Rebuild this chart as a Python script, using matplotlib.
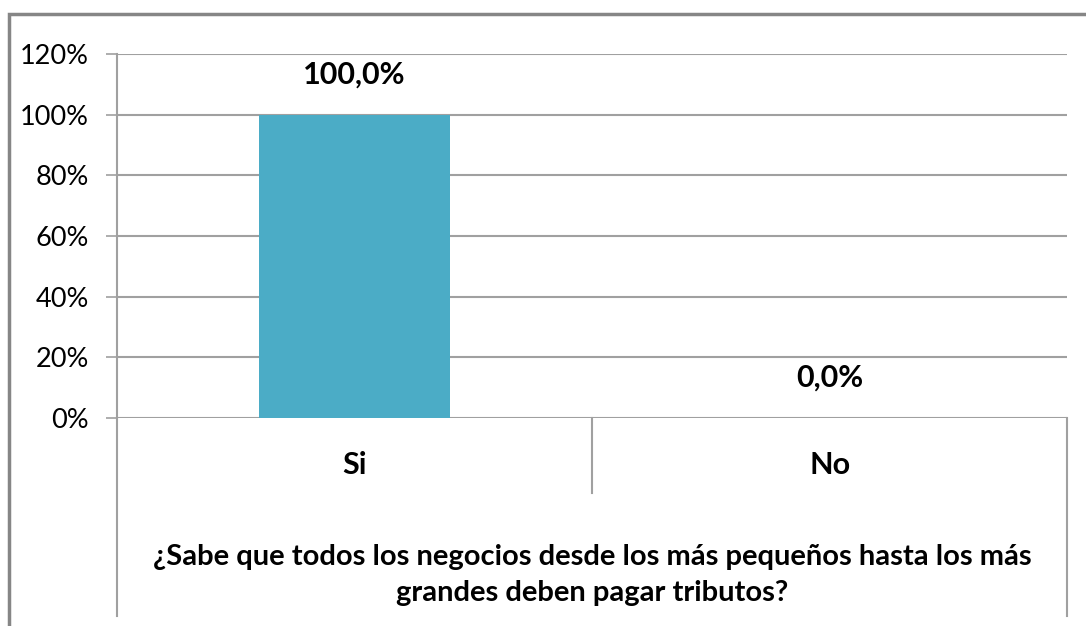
import matplotlib
matplotlib.use("Agg")
import matplotlib.pyplot as plt
import matplotlib.patches as patches
from matplotlib import ticker

plt.rcParams["font.family"] = ["Lato", "DejaVu Sans"]

categories = ["Si", "No"]
values = [100.0, 0.0]
question = "¿Sabe que todos los negocios desde los más pequeños hasta los más\ngrandes deben pagar tributos?"
y_ticks = [0, 20, 40, 60, 80, 100, 120]

bar_color = "#4BACC6"
line_color = "#A0A0A0"

fig = plt.figure(figsize=(10.86, 6.26), dpi=100)
ax = fig.add_axes([0.1077, 0.3323, 0.875, 0.5814])

x = list(range(len(categories)))
ax.bar(x, values, width=0.4, color=bar_color, zorder=3)
ax.set_xlim(-0.5, len(categories) - 0.5)
ax.set_ylim(0, 120)

ax.set_yticks(y_ticks)
ax.yaxis.set_major_formatter(ticker.FuncFormatter(lambda v, p: f"{int(v)}%"))
ax.tick_params(axis="y", length=8, width=1.2, color=line_color, labelsize=19.5, pad=12)
ax.set_xticks([])
ax.grid(axis="y", color=line_color, linewidth=1.5, zorder=0)

for s in ["top", "right", "bottom"]:
    ax.spines[s].set_visible(False)
ax.spines["left"].set_color(line_color)
ax.spines["left"].set_linewidth(1.5)

# data labels
for xi, v in zip(x, values):
    ax.annotate(f"{v:.1f}%".replace(".", ","), (xi, v), xytext=(0, 29), textcoords="offset points",
                ha="center", va="center", fontsize=22, fontweight="bold")

# category axis drawn like an Excel table
trans = ax.get_xaxis_transform()
ax.plot([-0.5, -0.5], [0, -0.544], transform=trans, color=line_color, lw=1.5, clip_on=False)
ax.plot([1.5, 1.5], [0, -0.544], transform=trans, color=line_color, lw=1.5, clip_on=False)
for i in range(1, len(categories)):
    ax.plot([i - 0.5, i - 0.5], [0, -0.206], transform=trans, color=line_color, lw=1.5, clip_on=False)
for xi, c in zip(x, categories):
    ax.text(xi, -0.13, c, transform=trans, ha="center", va="center", fontsize=22, fontweight="bold")
ax.text(0.5, -0.432, question, transform=trans, ha="center", va="center", fontsize=21,
        fontweight="bold", linespacing=1.45)

# outer frame
fig.patches.append(patches.Rectangle((9 / 1086, -0.1), 1.2, 1 - 14 / 626 + 0.1, transform=fig.transFigure,
                                     fill=False, edgecolor="#868686", linewidth=2.5))

fig.savefig("out.png", dpi=100)
